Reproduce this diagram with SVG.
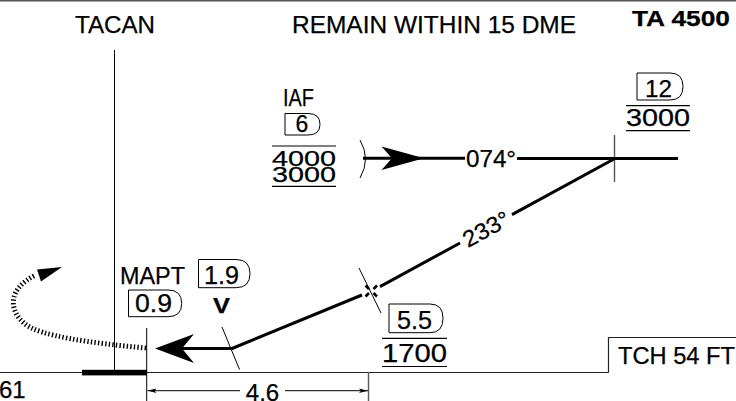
<svg xmlns="http://www.w3.org/2000/svg" width="736" height="401" viewBox="0 0 736 401">
<style>
text{font-family:"Liberation Sans",Arial,sans-serif;fill:#000;stroke:#000;stroke-width:0.25}
.t{font-size:22px}
.b{font-size:25px}
.thin{stroke:#000;stroke-width:1;fill:none}
.gray{stroke:#555;stroke-width:1.4;fill:none}
.trk{stroke:#000;stroke-width:3;fill:none}
.box{stroke:#000;stroke-width:1;fill:#fff}
.rule{stroke:#000;stroke-width:1.2}
</style>
<defs>
<marker id="dimL" markerWidth="10" markerHeight="6" refX="0" refY="3" orient="auto" markerUnits="userSpaceOnUse">
<path d="M0,3 L9,0.8 L7,3 L9,5.2 Z" fill="#000"/>
</marker>
<marker id="dimR" markerWidth="10" markerHeight="6" refX="9" refY="3" orient="auto" markerUnits="userSpaceOnUse">
<path d="M9,3 L0,0.8 L2,3 L0,5.2 Z" fill="#000"/>
</marker>
</defs>
<g id="frame">
<line x1="0" y1="0.7" x2="736" y2="0.7" stroke="#555" stroke-width="1.6"/>
<line x1="0" y1="372.5" x2="608.5" y2="372.5" stroke="#222" stroke-width="1.2"/>
<rect x="82" y="369.8" width="65" height="5.6" fill="#000"/>
</g>
<g id="header">
<text x="75" y="33" font-size="24" textLength="80" lengthAdjust="spacingAndGlyphs">TACAN</text>
<text x="292" y="33" font-size="24" textLength="284" lengthAdjust="spacingAndGlyphs">REMAIN WITHIN 15 DME</text>
<text x="632" y="26" font-size="22" font-weight="bold" textLength="98" lengthAdjust="spacingAndGlyphs">TA 4500</text>
</g>
<g id="tacan-line"><line class="thin" x1="114.5" y1="50" x2="114.5" y2="372"/></g>
<g id="iaf">
<text x="283" y="106" font-size="24" textLength="31" lengthAdjust="spacingAndGlyphs">IAF</text>
<path class="box" d="M285,113.5 H308 Q320,113.5 320,124.3 Q320,135 308,135 H285 Z"/>
<text x="302" y="131.5" font-size="23" text-anchor="middle">6</text>
<line class="rule" x1="272" y1="146" x2="336" y2="146"/>
<text class="t" x="272" y="166" textLength="64" lengthAdjust="spacingAndGlyphs">4000</text>
<text class="t" x="272" y="182" textLength="64" lengthAdjust="spacingAndGlyphs">3000</text>
<line class="rule" x1="272" y1="186.3" x2="336" y2="186.3"/>
</g>
<g id="fix-12">
<path class="box" d="M637,73 H670 Q683,73 683,86.5 Q683,100 670,100 H637 Z"/>
<text x="645" y="96.5" font-size="24" textLength="27" lengthAdjust="spacingAndGlyphs">12</text>
<line class="rule" x1="626" y1="105.7" x2="690" y2="105.7"/>
<text x="626" y="126" font-size="23" textLength="64" lengthAdjust="spacingAndGlyphs">3000</text>
<line class="rule" x1="626" y1="130.7" x2="690" y2="130.7"/>
<line class="gray" x1="614.5" y1="135" x2="614.5" y2="182"/>
</g>
<g id="fix-55">
<line class="thin" x1="359" y1="268" x2="381" y2="313"/>
<path d="M365.5,285.5 L369,289 M373.5,293 L377,296.5 M377,285.5 L373.5,289 M369,293 L365.5,296.5" stroke="#000" stroke-width="2.6" fill="none"/>
<path class="box" d="M389,304 H430 Q443,304 443,318.3 Q443,332.7 430,332.7 H389 Z"/>
<text class="b" x="397" y="329" textLength="35" lengthAdjust="spacingAndGlyphs">5.5</text>
<line class="rule" x1="382" y1="338.3" x2="447" y2="338.3"/>
<text class="b" x="382" y="362" textLength="65" lengthAdjust="spacingAndGlyphs">1700</text>
<line class="rule" x1="382" y1="366.5" x2="447" y2="366.5"/>
</g>
<g id="mapt">
<text x="120" y="283.5" font-size="24" textLength="65" lengthAdjust="spacingAndGlyphs">MAPT</text>
<path class="box" d="M198.5,259.5 H236 Q250,259.5 250,273.6 Q250,287.7 236,287.7 H198.5 Z"/>
<text class="b" x="204" y="283.5" textLength="35" lengthAdjust="spacingAndGlyphs">1.9</text>
<path class="box" d="M128.5,290 H168 Q181.7,290 181.7,303.4 Q181.7,316.7 168,316.7 H128.5 Z"/>
<text class="b" x="135" y="312" textLength="37" lengthAdjust="spacingAndGlyphs">0.9</text>
<text x="213" y="313" font-size="22" font-weight="bold" textLength="17" lengthAdjust="spacingAndGlyphs">V</text>
<line class="thin" x1="222" y1="327" x2="239.5" y2="369.5"/>
<line class="thin" x1="146.7" y1="328" x2="146.7" y2="401"/>
</g>
<g id="tch">
<path d="M608.5,372.5 V337.5 H736" stroke="#222" stroke-width="1.2" fill="none"/>
<text x="618" y="363.5" font-size="24" textLength="117" lengthAdjust="spacingAndGlyphs">TCH 54 FT</text>
</g>
<g id="dimension">
<line class="gray" x1="368.5" y1="372" x2="368.5" y2="401"/>
<line class="thin" x1="147.5" y1="390.7" x2="240" y2="390.7" marker-start="url(#dimL)"/>
<line class="thin" x1="285" y1="390.7" x2="368" y2="390.7" marker-end="url(#dimR)"/>
<text x="262.5" y="401" font-size="24" text-anchor="middle">4.6</text>
</g>
<g id="misc">
<text x="-1" y="398" font-size="24">61</text>
</g>
<g id="connectors">
<path d="M360,140 Q371,159 360,178" class="thin"/>
<line class="trk" x1="363" y1="158.3" x2="465" y2="158.3"/>
<path d="M424,158.3 L381.5,146.5 L392,158.3 L381.5,170 Z" fill="#000"/>
<text x="466" y="167" font-size="23" textLength="50" lengthAdjust="spacingAndGlyphs">074°</text>
<line class="trk" x1="517" y1="158.5" x2="678" y2="158.5"/>
<line class="trk" x1="614" y1="159" x2="512" y2="214.6"/>
<text x="486" y="237" font-size="23" text-anchor="middle" textLength="50" lengthAdjust="spacingAndGlyphs" transform="rotate(-28.6 486 228.8)">233°</text>
<line class="trk" x1="460" y1="243" x2="380" y2="286.6"/>
<line class="trk" x1="362" y1="295" x2="232" y2="348.5"/>
<line class="trk" x1="233.5" y1="348.5" x2="170" y2="348.5"/>
<path d="M155,348.5 L194,334 L182,348.5 L194,363 Z" fill="#000"/>
<path d="M146,348 C90,343 40,336 25,324 C8,310 8,288 36,275" stroke="#000" stroke-width="5" stroke-dasharray="1.4 2.2" fill="none"/>
<path d="M62,267 L37,269.5 L41,281.5 Z" fill="#000"/>
</g>
</svg>
